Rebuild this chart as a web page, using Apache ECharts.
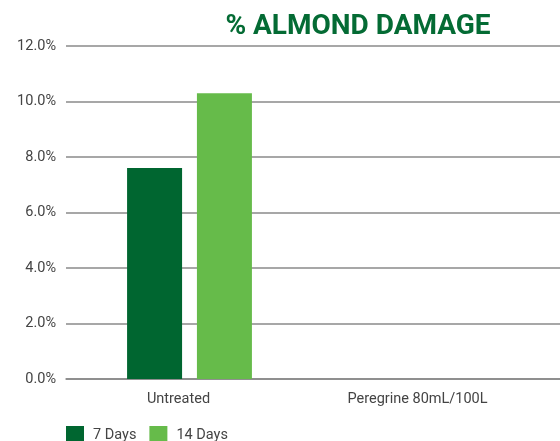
<!DOCTYPE html>
<html><head><meta charset="utf-8">
<script src="https://cdn.jsdelivr.net/npm/echarts@6/dist/echarts.min.js"></script>
<style>html,body{margin:0;padding:0;background:#fff}#c{width:560px;height:441px}</style>
</head><body><div id="c"></div>
<script>
const categories = ['Untreated', 'Peregrine 80mL/100L'];
const days7 = [7.6, 0];
const days14 = [10.3, 0];
const yTicks = [0, 2, 4, 6, 8, 10, 12];
const seriesNames = ['7 Days', '14 Days'];

const FONT = "'Roboto', sans-serif";
const chart = echarts.init(document.getElementById('c'));
chart.setOption({
  animation: false,
  title: {
    text: '% ALMOND DAMAGE', left: 353, top: 8, textAlign: 'center',
    textStyle: { fontFamily: FONT, fontWeight: 'bold', fontSize: 28, color: '#046b34' }
  },
  grid: { left: 66, right: 0, top: 46, bottom: 62 },
  legend: {
    left: 61, top: 421, itemWidth: 18, itemHeight: 19, itemGap: 13,
    icon: 'rect',
    textStyle: { fontFamily: FONT, fontSize: 14.5, color: '#444', padding: [0, 0, 0, 4] },
    data: seriesNames
  },
  xAxis: {
    type: 'category',
    data: [
      { value: categories[0], textStyle: { padding: [0, 22, 0, 0] } },
      { value: categories[1], textStyle: { padding: [0, 38, 0, 0] } }
    ],
    axisTick: { show: false },
    axisLine: { lineStyle: { color: '#888', width: 1.5 } },
    axisLabel: { fontFamily: FONT, fontSize: 14.5, color: '#444', margin: 13 }
  },
  yAxis: {
    type: 'value', min: yTicks[0], max: yTicks[yTicks.length - 1], interval: 2,
    axisLine: { show: false }, axisTick: { show: false },
    splitLine: { lineStyle: { color: '#8a8a8a', width: 1.5 } },
    axisLabel: { fontFamily: FONT, fontSize: 14.5, color: '#444', margin: 10,
      formatter: v => v.toFixed(1) + '%' }
  },
  series: [
    { name: seriesNames[0], type: 'bar', data: days7, barWidth: 55, barGap: '27%',
      itemStyle: { color: '#006630' } },
    { name: seriesNames[1], type: 'bar', data: days14, barWidth: 55,
      itemStyle: { color: '#66bb4a' } }
  ]
});
</script></body></html>
